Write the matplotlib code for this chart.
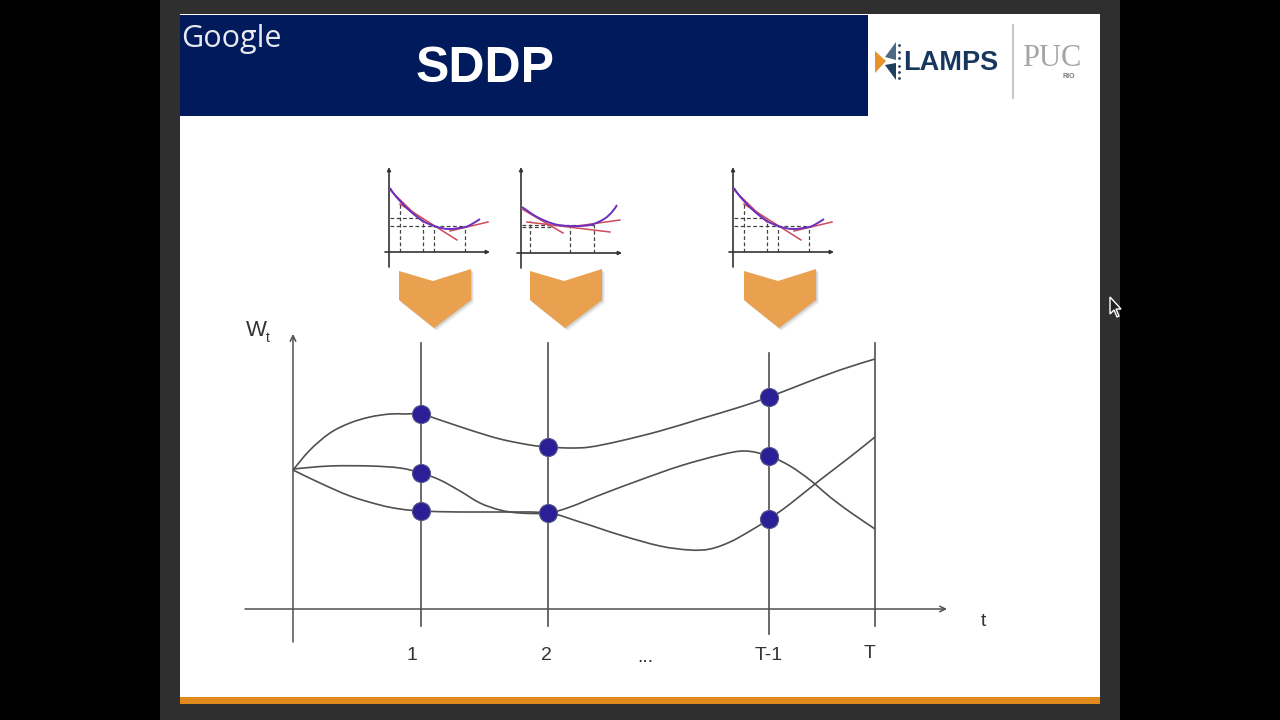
"""Recreate the SDDP lecture slide screenshot."""

import matplotlib
matplotlib.use("Agg")
import matplotlib.pyplot as plt
from matplotlib.patches import PathPatch, Polygon, Rectangle
from matplotlib.path import Path

plt.rcParams["font.family"] = ["Liberation Sans", "DejaVu Sans"]

NAVY = "#001a5c"
ORANGE = "#e08a1e"
CHEVRON = "#e9a150"
NODE = "#2a1f96"
LINE = "#505050"
PURPLE = "#6a2fc0"
RED = "#cf4a5a"

# scenario paths in pixels
top_x = [293, 310, 330, 350, 370, 390, 405, 421, 440, 470, 500, 530, 548, 570, 590, 620,
         660, 700, 740, 769, 800, 840, 875]
top_y = [470, 450, 433, 423, 417, 414, 414, 414, 420, 430, 439, 445, 447, 448, 447, 441,
         431, 419, 407, 397, 385, 370, 359]
mid_x = [293, 330, 370, 400, 421, 440, 460, 480, 500, 520, 548, 570, 600, 640, 680, 720,
         745, 769, 790, 810, 830, 850, 875]
mid_y = [469, 466, 466, 468, 473, 480, 491, 503, 510, 513, 513, 507, 495, 480, 466, 455,
         451, 456, 466, 480, 497, 512, 529]
low_x = [293, 320, 350, 380, 400, 421, 460, 500, 548, 580, 620, 660, 690, 710, 730, 750,
         769, 790, 820, 850, 875]
low_y = [470, 483, 496, 505, 509, 511, 512, 512, 513, 522, 535, 546, 550, 549, 542, 531,
         519, 504, 480, 457, 437]

# nodes
node_x = [421, 421, 421, 548, 548, 769, 769, 769]
node_y = [414, 473, 511, 447, 513, 397, 456, 519]

# stage lines: x, top, bottom
stage_x = [421, 548, 769, 875]
stage_top = [343, 343, 353, 343]
stage_bottom = [626, 626, 634, 626]
stage_labels = ["1", "2", "...", "T-1", "T"]
stage_label_x = [412, 546, 645, 769, 870]
stage_label_y = [656, 656, 657, 656, 654]

# small cost-function insets, offsets from each inset's origin
inset_origin_x = [390, 522, 734]
inset_origin_y = [252, 253, 252]
inset_curve_x = [[0, 4, 10, 20, 33, 47, 60, 75, 82, 90],
                 [0, 15, 32, 48, 68, 82, 90, 95],
                 [0, 4, 10, 20, 33, 47, 60, 75, 82, 90]]
inset_curve_y = [[-64, -58, -51, -41, -31, -25, -23, -25, -28, -33],
                 [-46, -36, -29, -27, -28, -34, -41, -48],
                 [-64, -58, -51, -41, -31, -25, -23, -25, -28, -33]]
inset_cuts = [[[(10, -48), (67, -12)], [(0, -62), (33, -30)], [(60, -21), (98, -30)]],
              [[(0, -44), (41, -20)], [(5, -31), (88, -21)], [(48, -26), (98, -33)]],
              [[(10, -48), (67, -12)], [(0, -62), (33, -30)], [(60, -21), (98, -30)]]]
inset_vert_x = [[10, 33, 44, 75], [8, 48, 72], [10, 33, 44, 75]]
inset_vert_y = [[-50, -31, -26, -25], [-32, -27, -28], [-50, -31, -26, -25]]
inset_horiz_y = [[-34, -26], [-28, -26], [-34, -26]]
inset_horiz_end = [[33, 75], [72, 30], [33, 75]]

# chevron outline relative to its left shoulder
chevron_left = [399, 530, 744]
chevron_dx = [0, 34, 72, 72, 35, 0]
chevron_dy = [271, 281, 269, 300, 328, 300]


def smooth_path(xs, ys):
    # bezier segments through the read points, so the line has no corners
    pts = list(zip(xs, ys))
    verts = [pts[0]]
    codes = [Path.MOVETO]
    for i in range(len(pts) - 1):
        p0 = pts[max(i - 1, 0)]
        p1 = pts[i]
        p2 = pts[i + 1]
        p3 = pts[min(i + 2, len(pts) - 1)]
        c1 = (p1[0] + (p2[0] - p0[0]) / 6, p1[1] + (p2[1] - p0[1]) / 6)
        c2 = (p2[0] - (p3[0] - p1[0]) / 6, p2[1] - (p3[1] - p1[1]) / 6)
        verts += [c1, c2, p2]
        codes += [Path.CURVE4, Path.CURVE4, Path.CURVE4]
    return Path(verts, codes)


fig = plt.figure(figsize=(12.8, 7.2), dpi=100)
ax = fig.add_axes([0, 0, 1, 1])
ax.set_xlim(0, 1280)
ax.set_ylim(720, 0)
ax.axis("off")

# ── Video frame and slide ────────────────────────────────────────────────────
ax.add_patch(Rectangle((0, 0), 1280, 720, fc="black", lw=0, zorder=0))
ax.add_patch(Rectangle((160, 0), 960, 720, fc="#2f2f2f", lw=0, zorder=0.5))
ax.add_patch(Rectangle((180, 14), 920, 690, fc="white", lw=0, zorder=1))
ax.add_patch(Rectangle((180, 697), 920, 7, fc=ORANGE, lw=0, zorder=2))
ax.add_patch(Rectangle((180, 15), 688, 101, fc=NAVY, lw=0, zorder=2))

ax.text(231, 39, "Google", color="#e8e8f0", fontsize=22, family="Open Sans",
        ha="center", va="center", zorder=3)
ax.text(485, 69, "SDDP", color="white", fontsize=36, fontweight="bold",
        ha="center", va="center", zorder=3)

# ── Logos ────────────────────────────────────────────────────────────────────
ax.add_patch(Polygon([(875, 51), (886, 61), (875, 73)], fc="#e8932a", lw=0, zorder=3))
ax.add_patch(Polygon([(896, 42), (885, 57), (896, 60)], fc="#4d6a85", lw=0, zorder=3))
ax.add_patch(Polygon([(885, 65), (896, 63), (896, 80)], fc="#1f3f60", lw=0, zorder=3))
ax.scatter([899, 899, 899, 899, 899, 899], [45, 52, 58, 66, 72, 78], s=4,
           color="#1f3f60", lw=0, zorder=3)
ax.text(951, 63, "LAMPS", color="#17375e", fontsize=19.5, fontweight="bold",
        ha="center", va="center", zorder=3)
ax.plot([1013, 1013], [25, 98], color="#c9c9c9", lw=1.5, zorder=3)
ax.text(1052, 59, "PUC", color="#a5a5a5", fontsize=22, family="Liberation Serif",
        ha="center", va="center", zorder=3)
ax.text(1069, 76, "RIO", color="#777777", fontsize=5, fontweight="bold",
        ha="center", va="center", zorder=3)

# ── Insets ───────────────────────────────────────────────────────────────────
for i, (ox, oy) in enumerate(zip(inset_origin_x, inset_origin_y)):
    ax.annotate("", xy=(ox - 1, 167), xytext=(ox - 1, oy + 15), zorder=3,
                arrowprops=dict(arrowstyle="-|>", color="#333333", lw=1.2,
                                mutation_scale=5, shrinkA=0, shrinkB=0))
    ax.annotate("", xy=(ox + 100, oy), xytext=(ox - 5, oy), zorder=3,
                arrowprops=dict(arrowstyle="-|>", color="#333333", lw=1.2,
                                mutation_scale=5, shrinkA=0, shrinkB=0))
    for vx, vy in zip(inset_vert_x[i], inset_vert_y[i]):
        ax.plot([ox + vx, ox + vx], [oy, oy + vy], color="#444444", lw=0.9,
                ls=(0, (3, 2)), zorder=3)
    for hy, hx in zip(inset_horiz_y[i], inset_horiz_end[i]):
        ax.plot([ox, ox + hx], [oy + hy, oy + hy], color="#444444", lw=0.9,
                ls=(0, (3, 2)), zorder=3)
    for cut in inset_cuts[i]:
        ax.plot([ox + cut[0][0], ox + cut[1][0]], [oy + cut[0][1], oy + cut[1][1]],
                color=RED, lw=1.1, zorder=4)
    curve = smooth_path([ox + v for v in inset_curve_x[i]], [oy + v for v in inset_curve_y[i]])
    ax.add_patch(PathPatch(curve, fc="none", ec=PURPLE, lw=1.4, zorder=5))

# ── Chevrons with a soft shadow ──────────────────────────────────────────────
for left in chevron_left:
    for grow, alpha in zip([3, 2, 1], [0.07, 0.1, 0.14]):
        pts = [(left + dx + grow, y + grow) for dx, y in zip(chevron_dx, chevron_dy)]
        ax.add_patch(Polygon(pts, fc="#555555", alpha=alpha, lw=0, zorder=3))
    pts = [(left + dx, y) for dx, y in zip(chevron_dx, chevron_dy)]
    ax.add_patch(Polygon(pts, fc=CHEVRON, lw=0, zorder=4))

# ── Scenario tree ────────────────────────────────────────────────────────────
ax.annotate("", xy=(293, 334), xytext=(293, 642), zorder=3,
            arrowprops=dict(arrowstyle="->", color=LINE, lw=1.1, shrinkA=0, shrinkB=0))
ax.annotate("", xy=(947, 609), xytext=(245, 609), zorder=3,
            arrowprops=dict(arrowstyle="->", color=LINE, lw=1.1, shrinkA=0, shrinkB=0))
for x, y0, y1 in zip(stage_x, stage_top, stage_bottom):
    ax.plot([x, x], [y0, y1], color=LINE, lw=1.2, zorder=3)

for xs, ys in [(top_x, top_y), (mid_x, mid_y), (low_x, low_y)]:
    ax.add_patch(PathPatch(smooth_path(xs, ys), fc="none", ec=LINE, lw=1.2, zorder=4))

ax.scatter(node_x, node_y, s=170, color=NODE, edgecolors="#5a5a8a", linewidths=0.8, zorder=5)

ax.text(246, 331, "W", color="#333333", fontsize=16, ha="left", va="center", zorder=3)
ax.text(266, 338, "t", color="#333333", fontsize=10, ha="left", va="center", zorder=3)
ax.text(983, 621, "t", color="#333333", fontsize=14, ha="center", va="center", zorder=3)
for label, x, y in zip(stage_labels, stage_label_x, stage_label_y):
    ax.text(x, y, label, color="#333333", fontsize=14, ha="center", va="center", zorder=3)

# ── Mouse cursor ─────────────────────────────────────────────────────────────
ax.add_patch(Polygon([(1110, 297), (1110, 314), (1114, 310), (1117, 317), (1119, 316),
                      (1116, 309), (1121, 309)],
                     facecolor="#222222", edgecolor="white", lw=1, zorder=6))

fig.savefig("out.png", dpi=100)
plt.close(fig)
